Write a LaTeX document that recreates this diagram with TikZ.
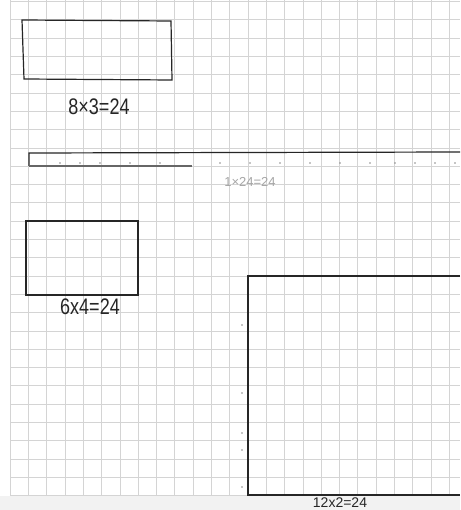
\documentclass[tikz,border=0pt]{standalone}
\usepackage{fontspec}
\usepackage{graphicx}
\setmainfont{Liberation Sans}
\begin{document}
\begin{tikzpicture}[x=1pt,y=-1pt,
  gridline/.style={draw=black!17,line width=0.7pt},
  pen/.style={draw=black!85,line width=1.2pt},
  hand/.style={font=\fontsize{18}{18}\selectfont,text=black!85,inner sep=0pt},
  faint/.style={font=\fontsize{13}{13}\selectfont,text=black!35,inner sep=0pt},
  dotmark/.style={fill=black!45,draw=none}]
\useasboundingbox (0,0) rectangle (460,510);
\clip (0,0) rectangle (460,510);
% paper
\fill[white] (0,0) rectangle (460,510);
\fill[black!5] (0,496) rectangle (460,510);
% grid
\foreach \k in {-13,...,11} {
  \draw[gridline] ({248+18.3*\k},0) -- ({248+18.3*\k},495);
}
\foreach \k in {-15,...,12} {
  \draw[gridline] (10,{276+18.3*\k}) -- (460,{276+18.3*\k});
}
% 8 x 3
\draw[pen] (22,20) -- (171,21) -- (172,80) -- (24,79) -- cycle;
\node[hand] (l1) at (99,107) {\scalebox{1}[1.25]{8×3=24}};
% 1 x 24 strip
\draw[pen] (29,166) -- (29,153) -- (460,152);
\draw[pen,draw=black!60] (29,166) -- (192,166);
\foreach \x in {60,80,100,130,160,220,250,280,310,340,370,395,415,435,455} {
  \fill[dotmark] (\x,163) circle (0.9);
}
\node[faint] (l2) at (250,182) {1×24=24};
% 6 x 4
\draw[pen] (26,221) -- (138,221) -- (138,295) -- (26,295) -- cycle;
\node[hand] (l3) at (90,307) {\scalebox{1}[1.25]{6x4=24}};
% 12 x 2
\draw[pen] (460,276) -- (248,276) -- (248,495) -- (460,495);
\foreach \y in {325,393,433,450,487} {
  \fill[dotmark] (242,\y) circle (0.9);
}
\node[font=\fontsize{14}{14}\selectfont,text=black!85,inner sep=0pt] (l4) at (340,502.5) {12x2=24};
\end{tikzpicture}
\end{document}
